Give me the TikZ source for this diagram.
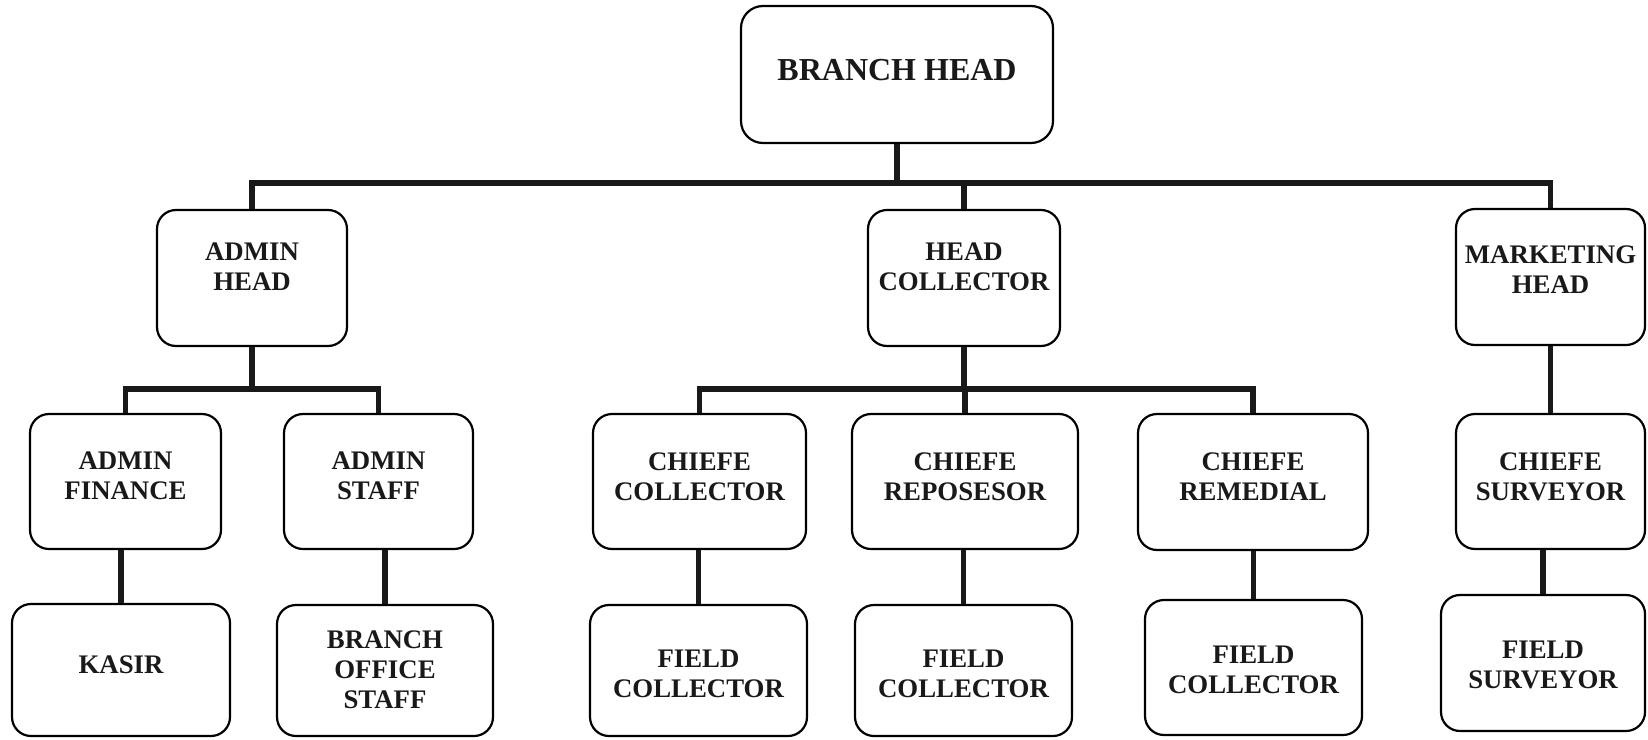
\documentclass[tikz,border=0pt]{standalone}
\usepackage{fontspec}
\setmainfont{Liberation Serif}
\tikzset{
  obox/.style={draw=black, line width=1.1pt, rounded corners=9.5pt, inner sep=0pt},
  otext/.style={font=\bfseries\fontsize{13.4pt}{15pt}\selectfont, align=center, inner sep=0pt, text=black!90},
  conn/.style={draw=black!90, line width=2.9pt},
}
\newcommand\obox[7]{%
  \node[obox, minimum width={0.5pt*(#4-#2)}, minimum height={0.5pt*(#5-#3)}] (#1) at ({(#2+#4)/2},{(#3+#5)/2}) {};
  \node[otext] (#1-t) at ({(#2+#4)/2},#6) {#7};
}
\begin{document}
\begin{tikzpicture}[x=0.5pt,y=-0.5pt]
\useasboundingbox (0,0) rectangle (1648,739);
% top
\node[obox, rounded corners=11pt, minimum width={0.5pt*312}, minimum height={0.5pt*137}] (bh) at (897,74.5) {};
\node[otext, font=\bfseries\fontsize{16pt}{18pt}\selectfont] (bh-t) at (897,70) {BRANCH HEAD};
% second row
\obox{ah}{157}{210}{347}{346}{266.5}{ADMIN\\HEAD}
\obox{hc}{868}{210}{1060}{346}{267}{HEAD\\COLLECTOR}
\obox{mh}{1456}{209}{1645}{345}{270}{MARKETING\\HEAD}
% third row
\obox{af}{30}{414}{221}{549}{476}{ADMIN\\FINANCE}
\obox{as}{284}{414}{473}{549}{475.5}{ADMIN\\STAFF}
\obox{cc}{593}{414}{806}{549}{477}{CHIEFE\\COLLECTOR}
\obox{cr}{852}{414}{1078}{549}{477}{CHIEFE\\REPOSESOR}
\obox{crm}{1138}{414}{1368}{550}{477}{CHIEFE\\REMEDIAL}
\obox{cs}{1456}{414}{1645}{549}{476.5}{CHIEFE\\SURVEYOR}
% fourth row
\obox{ks}{12}{604}{230}{736}{665}{KASIR}
\obox{bos}{277}{605}{493}{736}{670}{BRANCH\\OFFICE\\STAFF}
\obox{fc1}{590}{605}{807}{736}{674}{FIELD\\COLLECTOR}
\obox{fc2}{855}{605}{1072}{736}{674}{FIELD\\COLLECTOR}
\obox{fc3}{1145}{600}{1362}{735}{669.5}{FIELD\\COLLECTOR}
\obox{fs}{1441}{595}{1645}{731}{665}{FIELD\\SURVEYOR}
% connectors
\coordinate (ybar) at (0,183);
\coordinate (ysub) at (0,389);
\draw[conn] (ah.north) |- (mh.north |- ybar) -- (mh.north);
\draw[conn] (bh.south) -- (bh.south |- ybar);
\draw[conn] (hc.north) -- (hc.north |- ybar);
\draw[conn] (af.north) |- (as.north |- ysub) -- (as.north);
\draw[conn] (ah.south) -- (ah.south |- ysub);
\draw[conn] (cc.north) |- (crm.north |- ysub) -- (crm.north);
\draw[conn] (hc.south) -- (hc.south |- ysub);
\draw[conn] (cr.north) -- (cr.north |- ysub);
\draw[conn] (mh.south) -- (cs.north);
\draw[conn] (ks.north) -- (ks.north |- af.south);
\draw[conn] (bos.north) -- (bos.north |- as.south);
\draw[conn] (fc1.north) -- (fc1.north |- cc.south);
\draw[conn] (fc2.north) -- (fc2.north |- cr.south);
\draw[conn] (fc3.north) -- (fc3.north |- crm.south);
\draw[conn] (fs.north) -- (fs.north |- cs.south);
\end{tikzpicture}
\end{document}
